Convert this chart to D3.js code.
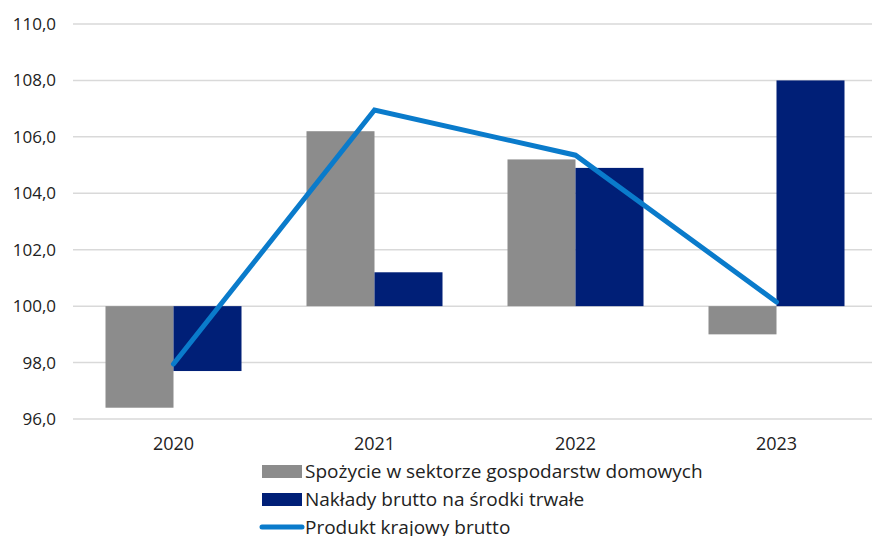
<!DOCTYPE html>
<html lang="pl">
<head>
<meta charset="UTF-8">
<title>PKB</title>
<style>
  body { margin: 0; background: #fff; }
  text { font-family: "Open Sans", "Noto Sans", sans-serif; fill: #222; }
  .grid line { stroke: #d9d9d9; stroke-width: 1.5px; }
</style>
</head>
<body>
<svg width="872" height="536"></svg>
<script src="https://d3js.org/d3.v7.min.js"></script>
<script>
var years = ["2020", "2021", "2022", "2023"];
var consumption = [96.4, 106.2, 105.2, 99.0];
var investment = [97.7, 101.2, 104.9, 108.0];
var gdp = [97.95, 106.95, 105.35, 100.15];
var yTicks = [96, 98, 100, 102, 104, 106, 108, 110];
var seriesNames = ["Spożycie w sektorze gospodarstw domowych", "Nakłady brutto na środki trwałe", "Produkt krajowy brutto"];
var colors = ["#8c8c8c", "#001f77", "#0a7bcb"];

var svg = d3.select("svg");

var x = d3.scaleBand().domain(years).range([73, 877]).paddingInner(0).paddingOuter(0);
var y = d3.scaleLinear().domain([96, 110]).range([419, 24]);
var barW = 68;

// gridlines
svg.append("g").attr("class", "grid")
  .selectAll("line").data(yTicks).enter().append("line")
  .attr("x1", 73).attr("x2", 872)
  .attr("y1", function (d) { return y(d); })
  .attr("y2", function (d) { return y(d); });

// y labels
svg.append("g").selectAll("text").data(yTicks).enter().append("text")
  .attr("x", 56).attr("y", function (d) { return y(d); })
  .attr("dy", "0.35em").attr("text-anchor", "end")
  .style("font-size", "17px")
  .text(function (d) { return d3.format(".1f")(d).replace(".", ","); });

// x labels
svg.append("g").selectAll("text").data(years).enter().append("text")
  .attr("x", function (d) { return x(d) + x.bandwidth() / 2; })
  .attr("y", 444).attr("dy", "0.35em").attr("text-anchor", "middle")
  .style("font-size", "18px")
  .text(function (d) { return d; });

function bars(vals, offset, color) {
  svg.append("g").selectAll("rect").data(vals).enter().append("rect")
    .attr("x", function (d, i) { return x(years[i]) + x.bandwidth() / 2 + offset; })
    .attr("width", barW)
    .attr("y", function (d) { return y(Math.max(d, 100)); })
    .attr("height", function (d) { return Math.abs(y(d) - y(100)); })
    .attr("fill", color);
}
bars(consumption, -barW, colors[0]);
bars(investment, 0, colors[1]);

var line = d3.line()
  .x(function (d, i) { return x(years[i]) + x.bandwidth() / 2; })
  .y(function (d) { return y(d); });

svg.append("path").datum(gdp)
  .attr("d", line)
  .attr("fill", "none")
  .attr("stroke", colors[2])
  .attr("stroke-width", 5)
  .attr("stroke-linecap", "round");

// legend
var leg = svg.append("g");
seriesNames.forEach(function (name, i) {
  var ly = 471 + i * 28;
  if (i < 2) {
    leg.append("rect").attr("x", 262).attr("y", ly - 6).attr("width", 40).attr("height", 13).attr("fill", colors[i]);
  } else {
    leg.append("line").attr("x1", 262).attr("x2", 302).attr("y1", ly).attr("y2", ly)
      .attr("stroke", colors[i]).attr("stroke-width", 5).attr("stroke-linecap", "round");
  }
  leg.append("text").attr("x", 305).attr("y", ly).attr("dy", "0.35em")
    .style("font-size", "19px").text(name);
});
</script>
</body>
</html>
